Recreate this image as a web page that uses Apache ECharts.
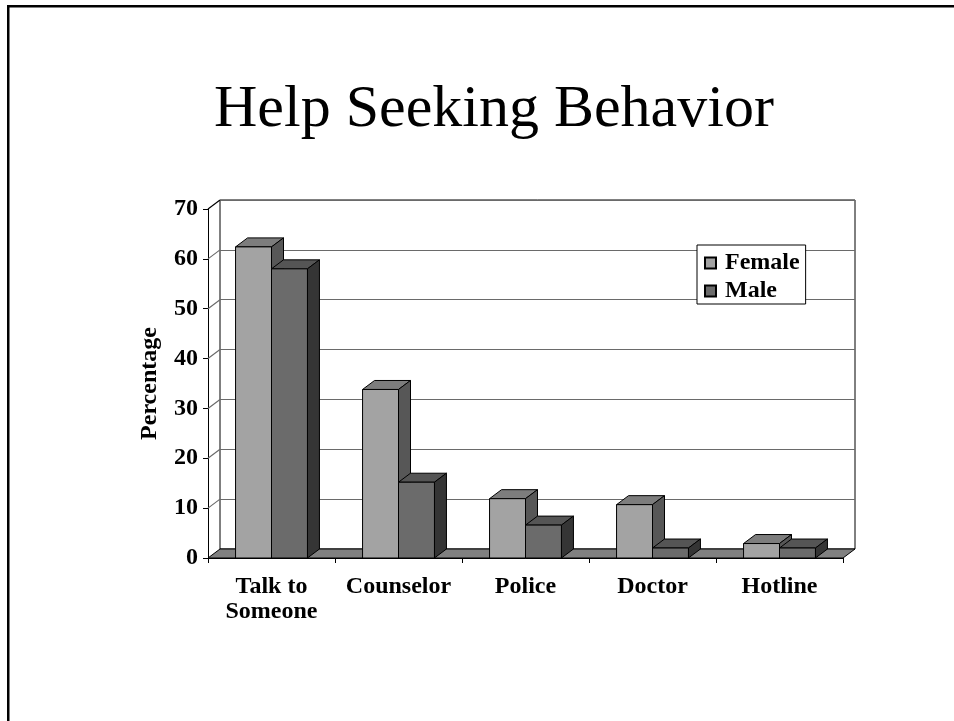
<!DOCTYPE html>
<html>
<head>
<meta charset="utf-8">
<script src="https://cdn.jsdelivr.net/npm/echarts@6/dist/echarts.min.js"></script>
<style>
html,body{margin:0;padding:0;background:#fff;}
#chart{width:954px;height:721px;}
</style>
</head>
<body>
<div id="chart"></div>
<script>
// ---- data ----
var categories = ['Talk to\nSomeone', 'Counselor', 'Police', 'Doctor', 'Hotline'];
var seriesNames = ['Female', 'Male'];
var femaleValues = [62.4, 33.8, 11.9, 10.7, 2.9];
var maleValues = [58.0, 15.2, 6.6, 2.0, 2.0];
var yTicks = [0, 10, 20, 30, 40, 50, 60, 70];
var titleText = 'Help Seeking Behavior';
var yAxisName = 'Percentage';

// ---- style ----
var DX = 12, DY = -9;
var FONT = '"Liberation Serif", "Times New Roman", serif';
var faceColors = [
  {front: '#a3a3a3', top: '#7d7d7d', side: '#575757'},
  {front: '#6b6b6b', top: '#555555', side: '#353535'}
];
var barFrac = 0.283;

function barRenderer(si) {
  return function (params, api) {
    var idx = api.value(0), val = api.value(1);
    var c = api.coord([idx, val]);
    var b = api.coord([idx, 0]);
    var band = api.size([1, 0])[0];
    var w = band * barFrac;
    var x0 = si === 0 ? c[0] - w : c[0];
    var x1 = x0 + w;
    var top = c[1], base = b[1];
    var col = faceColors[si];
    var st = {stroke: '#000', lineWidth: 1};
    return {
      type: 'group',
      children: [
        {type: 'polygon', shape: {points: [[x0, top], [x1, top], [x1 + DX, top + DY], [x0 + DX, top + DY]]},
         style: Object.assign({fill: col.top}, st)},
        {type: 'polygon', shape: {points: [[x1, top], [x1 + DX, top + DY], [x1 + DX, base + DY], [x1, base]]},
         style: Object.assign({fill: col.side}, st)},
        {type: 'rect', shape: {x: x0, y: top, width: w, height: base - top},
         style: Object.assign({fill: col.front}, st)}
      ]
    };
  };
}

function wallRenderer(params, api) {
  var cs = params.coordSys;
  var v = api.value(0);
  var y = api.coord([0, v])[1];
  var x = cs.x;
  var children = [];
  if (v === 0) {
    var yb = cs.y + cs.height;
    children.push({type: 'polygon', z2: 0,
      shape: {points: [[x, yb], [x + cs.width, yb], [x + cs.width + DX, yb + DY], [x + DX, yb + DY]]},
      style: {fill: '#808080', stroke: '#000', lineWidth: 1}});
  } else {
    children.push({type: 'line', shape: {x1: x, y1: y, x2: x + DX, y2: y + DY},
      style: {stroke: v === yTicks[yTicks.length - 1] ? '#000' : '#6a6a6a', lineWidth: 1.2}});
  }
  return {type: 'group', children: children};
}

var chart = echarts.init(document.getElementById('chart'), null, {renderer: 'canvas'});
var option = {
  backgroundColor: '#fff',
  animation: false,
  title: {
    text: titleText, left: 209, top: 75,
    textStyle: {fontFamily: FONT, fontWeight: 'normal', fontSize: 60, color: '#000'}
  },
  legend: {
    orient: 'vertical', left: 697, top: 245,
    data: seriesNames,
    icon: 'rect', itemWidth: 11, itemHeight: 11, itemGap: 4,
    padding: [6, 6, 1, 7],
    borderColor: '#000', borderWidth: 1, backgroundColor: '#fff',
    textStyle: {fontFamily: FONT, fontWeight: 'bold', fontSize: 24, color: '#000', padding: [0, 0, 0, 4]},
    selectedMode: false, z: 10
  },
  grid: [
    {left: 208, top: 209, width: 635, height: 349},
    {left: 220, top: 200, width: 635, height: 349, show: true, borderColor: '#000', borderWidth: 1, backgroundColor: '#fff'}
  ],
  xAxis: [
    {type: 'category', gridIndex: 0, data: categories,
     axisLine: {lineStyle: {color: '#000', width: 1}},
     axisTick: {show: true, length: 5, lineStyle: {color: '#000'}},
     axisLabel: {interval: 0, margin: 16, fontFamily: FONT, fontWeight: 'bold', fontSize: 24, lineHeight: 25, color: '#000'}},
    {type: 'category', gridIndex: 1, data: categories, show: false}
  ],
  yAxis: [
    {type: 'value', gridIndex: 0, min: 0, max: 70, interval: 10,
     name: yAxisName, nameLocation: 'middle', nameGap: 46, nameRotate: 90,
     nameTextStyle: {fontFamily: FONT, fontWeight: 'bold', fontSize: 24, color: '#000'},
     axisLine: {show: true, lineStyle: {color: '#000', width: 1}},
     axisTick: {show: true, length: 5, lineStyle: {color: '#000'}},
     axisLabel: {margin: 10, fontFamily: FONT, fontWeight: 'bold', fontSize: 24, color: '#000'},
     splitLine: {show: false}},
    {type: 'value', gridIndex: 1, min: 0, max: 70, interval: 10,
     axisLine: {show: false}, axisTick: {show: false}, axisLabel: {show: false},
     splitLine: {show: true, lineStyle: {color: '#6a6a6a', width: 1.2}}}
  ],
  series: [
    {type: 'custom', name: 'walls', xAxisIndex: 0, yAxisIndex: 0, z: 1,
     data: yTicks.map(function (t) { return [t]; }),
     encode: {y: 0}, renderItem: wallRenderer, silent: true},
    {type: 'custom', name: seriesNames[0], xAxisIndex: 0, yAxisIndex: 0, z: 3,
     itemStyle: {color: faceColors[0].front, borderColor: '#000', borderWidth: 1},
     data: femaleValues.map(function (v, i) { return [i, v]; }),
     encode: {x: 0, y: 1}, renderItem: barRenderer(0)},
    {type: 'custom', name: seriesNames[1], xAxisIndex: 0, yAxisIndex: 0, z: 4,
     itemStyle: {color: faceColors[1].front, borderColor: '#000', borderWidth: 1},
     data: maleValues.map(function (v, i) { return [i, v]; }),
     encode: {x: 0, y: 1}, renderItem: barRenderer(1)}
  ],
  graphic: [
    {type: 'rect', shape: {x: 7, y: 5, width: 947, height: 2.5}, style: {fill: '#000'}, silent: true},
    {type: 'rect', shape: {x: 7, y: 5, width: 2.5, height: 716}, style: {fill: '#000'}, silent: true}
  ]
};
chart.setOption(option);
</script>
</body>
</html>
